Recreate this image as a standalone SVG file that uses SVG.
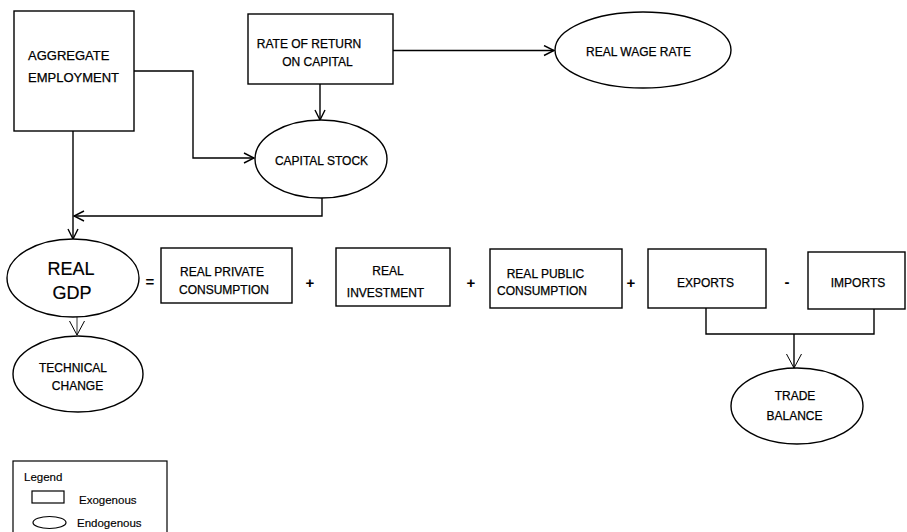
<svg xmlns="http://www.w3.org/2000/svg" width="907" height="532" viewBox="0 0 907 532">
<style>
  .box { fill: #fff; stroke: #000; stroke-width: 1.4; }
  .ell { fill: #fff; stroke: #000; stroke-width: 1.4; }
  .t { font-family: "Liberation Sans", Arial, sans-serif; font-size: 12px; fill: #000; stroke: #000; stroke-width: 0.25; text-anchor: middle; }
  .tl { font-family: "Liberation Sans", Arial, sans-serif; font-size: 11.5px; fill: #000; stroke: #000; stroke-width: 0.15; }
  .op { font-family: "Liberation Sans", Arial, sans-serif; font-size: 15px; font-weight: bold; fill: #000; text-anchor: middle; }
  .ln { fill: none; stroke: #000; stroke-width: 1.4; }
  .thin { fill: none; stroke: #000; stroke-width: 0.8; }
</style>
<defs>
  <marker id="arr" markerUnits="userSpaceOnUse" markerWidth="12" markerHeight="12" viewBox="0 0 12 12" refX="11" refY="6" orient="auto">
    <path d="M1,1 L11,6 L1,11" fill="none" stroke="#000" stroke-width="1.4"/>
  </marker>
  <marker id="arrw" markerUnits="userSpaceOnUse" markerWidth="16" markerHeight="18" viewBox="0 0 16 18" refX="15" refY="9" orient="auto">
    <path d="M1,1.5 L15,9 L1,16.5" fill="none" stroke="#000" stroke-width="1"/>
  </marker>
</defs>

<g id="connectors">
  <path class="ln" d="M134,71 H193 V158 H254" marker-end="url(#arr)"/>
  <path class="ln" d="M393,50.5 H554" marker-end="url(#arr)"/>
  <path class="ln" d="M320,84 V120" marker-end="url(#arr)"/>
  <path class="ln" d="M73,131 V239" marker-end="url(#arr)"/>
  <path class="ln" d="M322,198 V216 H74" marker-end="url(#arr)"/>
  <path class="thin" d="M77,317 V335" marker-end="url(#arrw)"/>
  <path class="ln" d="M706,308 V334 H874 V309"/>
  <path class="ln" d="M794,334 V368" marker-end="url(#arrw)"/>
</g>

<g id="aggregate-employment">
  <rect class="box" x="14" y="11" width="120" height="120"/>
  <text class="t" x="28" y="59.5" style="text-anchor:start;font-size:13px">AGGREGATE</text>
  <text class="t" x="28" y="81.5" style="text-anchor:start;font-size:13px">EMPLOYMENT</text>
</g>

<g id="rate-of-return">
  <rect class="box" x="248" y="14" width="145" height="70"/>
  <text class="t" x="309" y="48">RATE OF RETURN</text>
  <text class="t" x="317.5" y="65.5">ON CAPITAL</text>
</g>

<g id="real-wage-rate">
  <ellipse class="ell" cx="643" cy="50" rx="88" ry="38"/>
  <text class="t" x="638.5" y="56">REAL WAGE RATE</text>
</g>

<g id="capital-stock">
  <ellipse class="ell" cx="321" cy="159" rx="66" ry="39"/>
  <text class="t" x="321.5" y="164.5">CAPITAL STOCK</text>
</g>

<g id="real-gdp">
  <ellipse class="ell" cx="73" cy="278" rx="66" ry="39"/>
  <text class="t" x="71" y="274.5" style="font-size:18px;stroke-width:0.2">REAL</text>
  <text class="t" x="72" y="298.5" style="font-size:18px;stroke-width:0.2">GDP</text>
</g>

<g id="operators">
  <text class="op" x="150" y="287">=</text>
  <text class="op" x="310" y="288">+</text>
  <text class="op" x="471" y="288">+</text>
  <text class="op" x="631" y="288">+</text>
  <text class="op" x="787" y="287">-</text>
</g>

<g id="real-private-consumption">
  <rect class="box" x="161" y="248" width="131" height="55"/>
  <text class="t" x="222" y="275.5">REAL PRIVATE</text>
  <text class="t" x="224" y="293.5">CONSUMPTION</text>
</g>

<g id="real-investment">
  <rect class="box" x="336" y="248" width="114" height="58"/>
  <text class="t" x="388" y="274.5">REAL</text>
  <text class="t" x="385.5" y="296.5">INVESTMENT</text>
</g>

<g id="real-public-consumption">
  <rect class="box" x="490" y="249" width="132" height="59"/>
  <text class="t" x="545.5" y="277.5">REAL PUBLIC</text>
  <text class="t" x="542" y="294.5">CONSUMPTION</text>
</g>

<g id="exports">
  <rect class="box" x="648" y="249" width="118" height="59"/>
  <text class="t" x="705.5" y="286.5">EXPORTS</text>
</g>

<g id="imports">
  <rect class="box" x="808" y="252" width="97" height="57"/>
  <text class="t" x="858" y="286.5">IMPORTS</text>
</g>

<g id="technical-change">
  <ellipse class="ell" cx="78" cy="374" rx="65" ry="38"/>
  <text class="t" x="73" y="371.5">TECHNICAL</text>
  <text class="t" x="77.5" y="389.5">CHANGE</text>
</g>

<g id="trade-balance">
  <ellipse class="ell" cx="797" cy="406" rx="66" ry="38"/>
  <text class="t" x="795" y="399.5">TRADE</text>
  <text class="t" x="794.5" y="419.5">BALANCE</text>
</g>

<g id="legend">
  <rect class="box" x="13" y="461" width="154" height="80" style="stroke-width:1.2"/>
  <text class="tl" x="24" y="481">Legend</text>
  <rect class="box" x="32" y="491" width="32" height="12" style="stroke-width:1.2"/>
  <text class="tl" x="79" y="504">Exogenous</text>
  <ellipse class="ell" cx="49.5" cy="522.5" rx="16.5" ry="6" style="stroke-width:1.2"/>
  <text class="tl" x="77" y="526.5">Endogenous</text>
</g>
</svg>
